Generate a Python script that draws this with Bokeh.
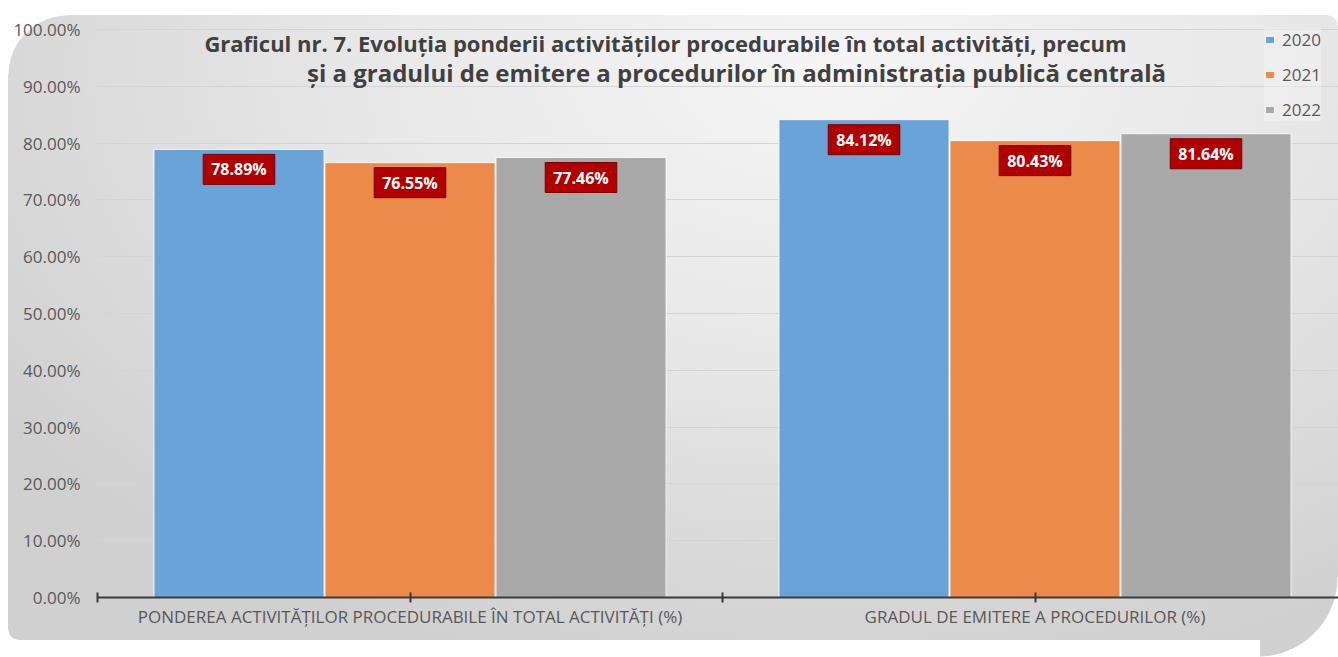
from bokeh.plotting import figure
from bokeh.models import Range1d, FixedTicker, Label, Legend, LegendItem
from bokeh.core.properties import value
from bokeh.embed import file_html
from bokeh.resources import INLINE

categories = ["PONDEREA ACTIVITĂȚILOR PROCEDURABILE ÎN TOTAL ACTIVITĂȚI (%)",
              "GRADUL DE EMITERE A PROCEDURILOR (%)"]
years = ["2020", "2021", "2022"]
v2020 = [78.89, 84.12]
v2021 = [76.55, 80.43]
v2022 = [77.46, 81.64]
series = [v2020, v2021, v2022]
colors = ["#6aa3d8", "#ec8a4a", "#a9a9a9"]
offsets = [-0.2736, 0.0, 0.2736]
y_ticks = [0, 10, 20, 30, 40, 50, 60, 70, 80, 90, 100]
title_lines = ["Graficul nr. 7. Evoluția ponderii activităților procedurabile în total activități, precum",
               "și a gradului de emitere a procedurilor în administrația publică centrală"]

FONT = "Open Sans"

p = figure(width=1338, height=657, output_backend="svg", toolbar_location=None,
           x_range=Range1d(0, 1.9856), y_range=Range1d(0, 105.1),
           min_border_left=97, min_border_right=0, min_border_top=0, min_border_bottom=60)
p.border_fill_color = None
p.background_fill_color = None
p.outline_line_color = None

bg = ", ".join([
    "radial-gradient(circle at 68px 75px, rgba(255,255,255,0) 59px, #fff 60px) 0 0 / 68px 75px no-repeat",
    "radial-gradient(circle at 0 0, rgba(255,255,255,0) 79px, #fff 80px) 1258px 577px / 80px 80px no-repeat",
    "radial-gradient(circle at 10px 0, rgba(255,255,255,0) 9px, #fff 10px) 8px 630px / 10px 10px no-repeat",
    "radial-gradient(circle at 0 10px, rgba(255,255,255,0) 9px, #fff 10px) 1328px 15px / 10px 10px no-repeat",
    "linear-gradient(#fff,#fff) 0 0 / 100% 15px no-repeat",
    "linear-gradient(#fff,#fff) 0 0 / 8px 100% no-repeat",
    "linear-gradient(#fff,#fff) 0 640px / 1260px 17px no-repeat",
    "radial-gradient(ellipse 75% 95% at 62% 10%, #f5f5f5 0%, #e8e8e8 45%, #d0d0d0 100%)",
])
p.styles = {"background": bg}

# bars
renderers = []
for vals, col, off in zip(series, colors, offsets):
    xs = [i + 0.5 + off for i in range(len(categories))]
    r = p.vbar(x=xs, top=vals, width=0.272, fill_color=col, line_color="#ffffff",
               line_width=1, line_alpha=0.8)
    renderers.append(r)
    p.text(x=xs, y=vals, text=[f"{v:.2f}%" for v in vals], y_offset=20,
           text_align="center", text_baseline="middle",
           text_font=value(FONT), text_font_style="bold", text_font_size="16px",
           text_color="white", background_fill_color="#b00000",
           border_line_color="#7a0000", border_line_width=1,
           padding={"left": 8, "right": 8, "top": 4, "bottom": 4})

# axes
p.xgrid.visible = False
p.ygrid.grid_line_color = "#d4d4d4"
p.ygrid.ticker = FixedTicker(ticks=y_ticks)

p.yaxis.ticker = FixedTicker(ticks=y_ticks)
p.yaxis.major_label_overrides = {t: f"{t:.2f}%" for t in y_ticks}
p.yaxis.axis_line_color = None
p.yaxis.major_tick_line_color = None
p.yaxis.minor_tick_line_color = None
p.yaxis.major_label_standoff = 11
p.yaxis.major_label_text_font = FONT
p.yaxis.major_label_text_font_size = "17px"
p.yaxis.major_label_text_color = "#595959"

x_ticks = [0, 0.5, 1, 1.5]
p.xaxis.ticker = FixedTicker(ticks=x_ticks)
p.xaxis.major_label_overrides = {0: "", 0.5: categories[0], 1: "", 1.5: categories[1]}
p.xaxis.axis_line_color = "#3a3a3a"
p.xaxis.axis_line_width = 2
p.xaxis.major_tick_line_color = "#3a3a3a"
p.xaxis.major_tick_line_width = 2
p.xaxis.major_tick_in = 5
p.xaxis.major_tick_out = 5
p.xaxis.minor_tick_line_color = None
p.xaxis.major_label_standoff = 2
p.xaxis.major_label_text_font = FONT
p.xaxis.major_label_text_font_size = "17px"
p.xaxis.major_label_text_color = "#595959"

# title lines (inside the plot area)
for txt, cx, cy, fs in zip(title_lines, [0.9088, 1.0224], [97.7, 92.4], ["22px", "24px"]):
    p.add_layout(Label(x=cx, y=cy, text=txt, text_align="center", text_baseline="middle",
                       text_font=FONT, text_font_style="bold", text_font_size=fs,
                       text_color="#404040"))

legend = Legend(items=[LegendItem(label=y, renderers=[r]) for y, r in zip(years, renderers)],
                location=(1167, 476), orientation="vertical",
                glyph_width=11, glyph_height=9, label_height=22, spacing=12, padding=6,
                label_standoff=7,
                label_text_font=FONT, label_text_font_size="17px", label_text_color="#595959",
                background_fill_color="#f4f4f4", background_fill_alpha=0.5,
                border_line_color=None, margin=0)
p.add_layout(legend)

open("out.html", "w").write(file_html(p, INLINE))
